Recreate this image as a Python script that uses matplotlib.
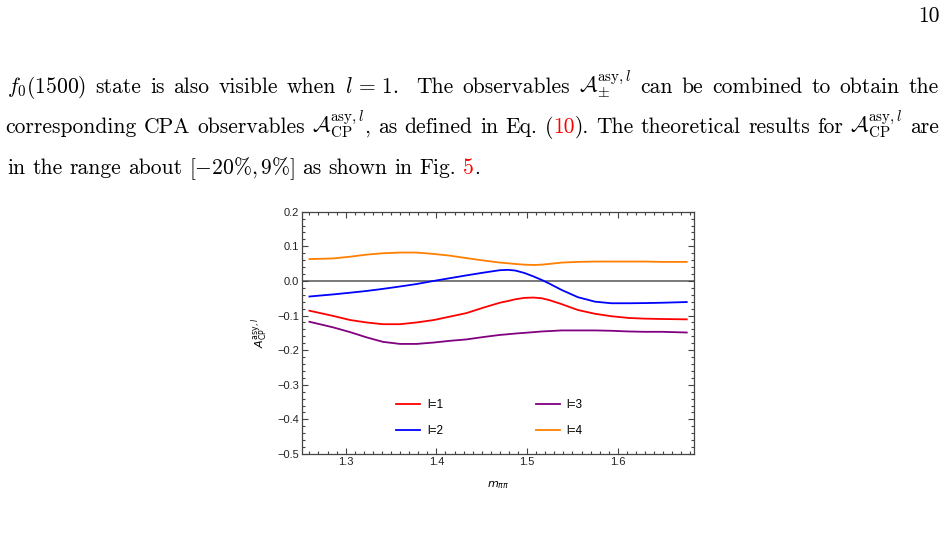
import matplotlib
matplotlib.use("Agg")
import matplotlib.pyplot as plt
from matplotlib.ticker import MultipleLocator, FuncFormatter

# values
m_pipi = [1.260, 1.286, 1.305, 1.323, 1.341, 1.360, 1.378, 1.397, 1.415, 1.433,
          1.452, 1.470, 1.479, 1.487, 1.497, 1.507, 1.516, 1.524, 1.538, 1.556,
          1.575, 1.593, 1.612, 1.630, 1.649, 1.676]

acp_l1 = [-0.086, -0.101, -0.113, -0.120, -0.125, -0.125, -0.120, -0.113, -0.103, -0.093,
          -0.077, -0.063, -0.058, -0.053, -0.049, -0.048, -0.050, -0.055, -0.067, -0.084,
          -0.095, -0.102, -0.107, -0.109, -0.110, -0.111]
acp_l2 = [-0.045, -0.039, -0.034, -0.029, -0.023, -0.016, -0.009, 0.000, 0.008, 0.016,
          0.024, 0.031, 0.032, 0.030, 0.023, 0.013, 0.003, -0.007, -0.026, -0.047,
          -0.060, -0.0645, -0.0645, -0.064, -0.063, -0.061]
acp_l3 = [-0.118, -0.134, -0.148, -0.163, -0.176, -0.182, -0.182, -0.178, -0.173, -0.169,
          -0.162, -0.156, -0.154, -0.152, -0.150, -0.148, -0.146, -0.145, -0.143, -0.143,
          -0.143, -0.144, -0.146, -0.147, -0.147, -0.149]
acp_l4 = [0.063, 0.065, 0.070, 0.076, 0.080, 0.082, 0.082, 0.078, 0.073, 0.066,
          0.059, 0.053, 0.051, 0.049, 0.047, 0.046, 0.047, 0.049, 0.053, 0.055,
          0.056, 0.056, 0.056, 0.056, 0.055, 0.055]

series = [
    ("l=1", acp_l1, "#ff0000"),
    ("l=2", acp_l2, "#0000ff"),
    ("l=3", acp_l3, "#800080"),
    ("l=4", acp_l4, "#ff8000"),
]

W, H = 944, 534
fig = plt.figure(figsize=(W / 100, H / 100), dpi=100)
renderer = fig.canvas.get_renderer()


def fx(x):
    return x / W


def fy(y):
    return 1 - y / H


# ---- page text around the figure ----
body = dict(fontsize=15.5, family="cmr10", math_fontfamily="cm", va="baseline")
K, R = "black", "#ff0000"
A_pm = r"$\mathcal{A}_{\pm}^{\mathrm{asy},l}$"
A_cp = r"$\mathcal{A}_{\mathrm{CP}}^{\mathrm{asy},l}$"

line1 = [[(r"$f_0(1500)$", K)], [("state", K)], [("is", K)], [("also", K)],
         [("visible", K)], [("when", K)], [(r"$l\,=\,1.$", K)], [("", K)],
         [("The", K)], [("observables", K)], [(A_pm, K)], [("can", K)], [("be", K)],
         [("combined", K)], [("to", K)], [("obtain", K)], [("the", K)]]
line2 = [[("corresponding", K)], [("CPA", K)], [("observables", K)],
         [(A_cp, K), (",", K)], [("as", K)], [("defined", K)], [("in", K)],
         [("Eq.", K)], [("(", K), ("10", R), (").", K)], [("The", K)],
         [("theoretical", K)], [("results", K)], [("for", K)], [(A_cp, K)],
         [("are", K)]]
line3 = [[("in", K)], [("the", K)], [("range", K)], [("about", K)],
         [(r"$[-20\%,9\%]$", K)], [("as", K)], [("shown", K)], [("in", K)],
         [("Fig.", K)], [("5", R), (".", K)]]


def place_line(words, y, left, right=None, space=7.0):
    items, total = [], 0.0
    for w in words:
        parts = []
        for s, c in w:
            t = fig.text(0, fy(y), s, color=c, **body)
            wpx = t.get_window_extent(renderer).width if s else 0.0
            parts.append((t, wpx))
            total += wpx
        items.append(parts)
    gap = (right - left - total) / (len(words) - 1) if right else space
    x = left
    for parts in items:
        for t, wpx in parts:
            t.set_x(fx(x))
            x += wpx
        x += gap


place_line(line1, 93, 7, 939)
place_line(line2, 133, 5, 939)
place_line(line3, 174, 7, None, 7.0)
fig.text(fx(940), fy(22), "10", ha="right", **body)

# ---- chart ----
ax = fig.add_axes([fx(301.7), fy(454), (694 - 301.7) / W, (454 - 211.7) / H])

ax.axhline(0, color="#555555", lw=1.1, zorder=1)
for label, vals, color in series:
    ax.plot(m_pipi, vals, color=color, lw=1.3, label=label, zorder=2)

ax.set_xlim(1.2515, 1.684)
ax.set_ylim(-0.5, 0.2)
ax.xaxis.set_major_locator(MultipleLocator(0.1))
ax.xaxis.set_minor_locator(MultipleLocator(0.01))
ax.yaxis.set_major_locator(MultipleLocator(0.1))
ax.yaxis.set_minor_locator(MultipleLocator(0.02))

tick_font = "Liberation Sans"
ax.tick_params(which="both", direction="in", top=True, right=True,
               colors="#444444", labelcolor="#222222", width=0.8)
ax.tick_params(which="major", length=4, labelsize=8, pad=2)
ax.tick_params(which="minor", length=2)
ax.yaxis.set_major_formatter(FuncFormatter(
    lambda v, p: f"{v:.1f}".replace("-", "\u2212")))
for lab in ax.get_xticklabels() + ax.get_yticklabels():
    lab.set_family(tick_font)
for sp in ax.spines.values():
    sp.set_color("#444444")
    sp.set_linewidth(0.9)

ax.set_xlabel(r"$m_{\pi\pi}$", fontsize=8, math_fontfamily="dejavusans", labelpad=9)
ax.set_ylabel(r"$A_{\mathrm{CP}}^{\mathrm{asy},l}$", fontsize=8,
              math_fontfamily="dejavusans", labelpad=5)

ax.legend(ncol=2, loc="center", bbox_to_anchor=(0.479, 0.148), frameon=False,
          prop={"family": tick_font, "size": 8.5}, handlelength=2.0,
          columnspacing=7.85, labelspacing=1.15, handletextpad=0.6, borderpad=0)

fig.savefig("out.png", dpi=100)
